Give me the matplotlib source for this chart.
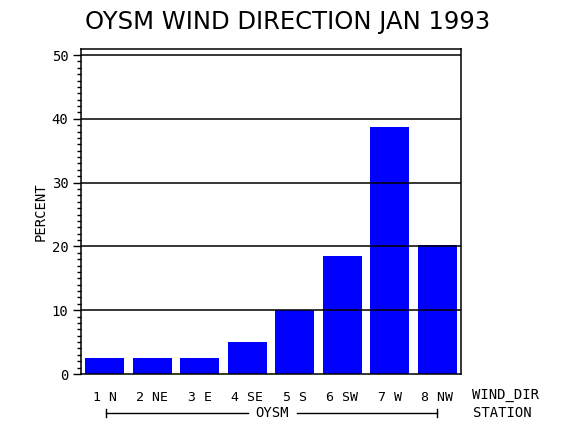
import numpy as np
import matplotlib
matplotlib.use("Agg")
import matplotlib.pyplot as plt
from matplotlib.ticker import MultipleLocator

# data
wind_dir = ["1 N", "2 NE", "3 E", "4 SE", "5 S", "6 SW", "7 W", "8 NW"]
percent = [2.5, 2.5, 2.5, 5.0, 10.0, 18.5, 38.8, 20.2]
station = "OYSM"
title = "OYSM WIND DIRECTION JAN 1993"

W, H = 570, 430
def fx(px):
    return px / W
def fy(py):
    return 1 - py / H

mono = "DejaVu Sans Mono"

fig = plt.figure(figsize=(5.7, 4.3), dpi=100)
ax = fig.add_axes([fx(81), fy(374), fx(461) - fx(81), fy(49) - fy(374)])

x = np.arange(len(wind_dir))
ax.bar(x, percent, width=0.82, color="#0000ff", zorder=1)

ax.set_xlim(-0.5, len(wind_dir) - 0.5)
ax.set_ylim(0, 50.95)
ax.yaxis.set_major_locator(MultipleLocator(10))
ax.yaxis.set_minor_locator(MultipleLocator(1))
for v in range(10, 60, 10):
    ax.axhline(v, color="black", lw=1.1, zorder=3)

ax.set_xticks(x)
ax.set_xticklabels(wind_dir, fontfamily=mono, fontsize=9.5)
ax.tick_params(axis="x", length=0, pad=12)
ax.tick_params(axis="y", which="major", length=6, width=1, direction="out", pad=3)
ax.tick_params(axis="y", which="minor", length=3, width=1, direction="out")
for lab in ax.get_yticklabels():
    lab.set_fontfamily(mono)
    lab.set_fontsize(10)
for s in ax.spines.values():
    s.set_linewidth(1.1)

fig.text(fx(41), fy(212), "PERCENT", rotation=90, ha="center", va="center",
         fontfamily=mono, fontsize=10)
fig.text(fx(288), fy(22), title, ha="center", va="center",
         fontfamily="DejaVu Sans", fontsize=17.5)

# axis names on the right
fig.text(fx(472), fy(395), "WIND_DIR", ha="left", va="center", fontfamily=mono, fontsize=10)
fig.text(fx(473), fy(413), "STATION", ha="left", va="center", fontfamily=mono, fontsize=10)

# station bracket
fig.text(fx(272), fy(413), station, ha="center", va="center", fontfamily=mono, fontsize=10)
ly = fy(413)
fig.add_artist(plt.Line2D([fx(106), fx(248)], [ly, ly], color="black", lw=1, transform=fig.transFigure))
fig.add_artist(plt.Line2D([fx(297), fx(437)], [ly, ly], color="black", lw=1, transform=fig.transFigure))
for ex in (106, 437):
    fig.add_artist(plt.Line2D([fx(ex), fx(ex)], [fy(409), fy(417)], color="black", lw=1,
                              transform=fig.transFigure))

fig.savefig("out.png", dpi=100)
